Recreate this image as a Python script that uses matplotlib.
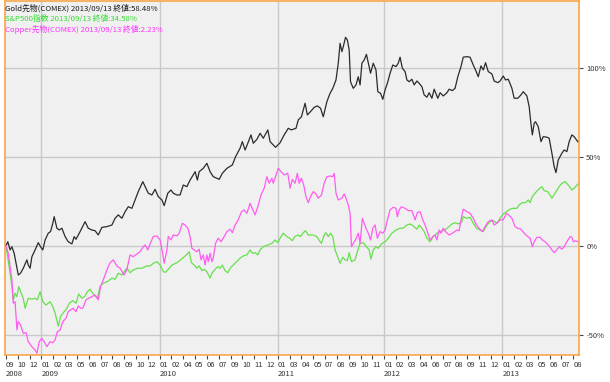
import matplotlib
matplotlib.use('Agg')
import matplotlib.pyplot as plt
from matplotlib.transforms import blended_transform_factory

plt.rcParams['font.family'] = ['Noto Sans CJK JP', 'DejaVu Sans']

# ---- data: x = trading-day index from 2008/09, y = % change ----
gold_days = [0, 4, 9, 13, 18, 27, 32, 38, 46, 49, 53, 57, 64, 71, 76, 81, 86, 93, 98, 103,
             106, 112, 117, 123, 130, 137, 145, 150, 154, 163, 174, 181, 189, 196, 203, 211,
             222, 233, 240, 247, 255, 262, 269, 277, 284, 291, 301, 313, 321, 328, 335, 343,
             348, 356, 363, 368, 376, 383, 390, 398, 405, 412, 416, 421, 425, 434, 442, 449,
             456, 464, 469, 476, 486, 498, 505, 515, 520, 526, 532, 539, 544, 552, 559, 566,
             576, 581, 588, 593, 603, 612, 621, 628, 632, 638, 643, 650, 658, 663, 670, 678,
             685, 692, 698, 706, 713, 719, 726, 731, 735, 739, 742, 747, 751, 755, 758, 764,
             770, 775, 779, 783, 788, 793, 799, 802, 808, 814, 818, 824, 829, 834, 839, 845,
             851, 858, 863, 867, 872, 878, 882, 887, 893, 898, 904, 909, 915, 920, 926, 931,
             937, 942, 950, 955, 962, 970, 975, 982, 988, 994, 1001, 1006, 1014, 1021, 1028,
             1033, 1039, 1045, 1050, 1055, 1061, 1069, 1074, 1082, 1087, 1094, 1099, 1105,
             1113, 1118, 1126, 1133, 1138, 1146, 1151, 1154, 1158, 1162, 1165, 1171, 1177,
             1182, 1190, 1195, 1201, 1206, 1210, 1215, 1223, 1228, 1234, 1239, 1245, 1250, 1258]
gold_pct = [0, 2.2, -2.4, -0.6, -4.3, -16.5, -15.5, -12.7, -8.0, -10.9, -12.7, -6.2, -2.4, 1.7,
            -0.6, -2.4, 3.2, 7.0, 7.9, 12.6, 16.3, 9.8, 8.8, 9.8, 5.1, 2.2, 1.0, 5.1, 3.6, 7.9,
            13.5, 9.8, 8.8, 8.4, 6.0, 10.3, 10.7, 11.6, 15.4, 17.3, 15.4, 19.1, 21.9, 21.0, 25.7,
            30.4, 36.0, 29.5, 28.5, 31.7, 27.6, 25.7, 22.5, 29.5, 31.3, 29.5, 28.5, 28.5, 34.1,
            33.2, 36.9, 39.8, 41.6, 36.9, 41.6, 43.5, 46.3, 41.6, 38.8, 37.9, 37.3, 40.7, 43.5,
            45.4, 50.0, 54.8, 58.5, 53.8, 57.6, 62.3, 57.6, 59.8, 63.2, 60.4, 65.1, 58.5, 56.6,
            55.3, 57.9, 62.3, 66.0, 65.1, 65.5, 66.0, 70.7, 72.5, 80.1, 73.5, 75.4, 77.8, 78.6,
            77.3, 72.5, 81.0, 85.7, 88.5, 93.2, 102.6, 113.8, 109.1, 111.9, 117.2, 115.7, 110.1,
            92.2, 88.5, 90.4, 95.0, 90.4, 102.6, 104.4, 107.6, 100.7, 97.0, 102.6, 98.8, 86.6,
            85.7, 82.3, 87.6, 91.3, 97.0, 101.6, 100.7, 102.6, 106.0, 99.8, 97.9, 93.2, 92.2,
            93.6, 90.4, 92.6, 91.3, 89.4, 84.8, 83.5, 86.0, 82.9, 88.0, 82.9, 86.0, 84.2, 86.0,
            88.0, 87.2, 88.5, 95.0, 100.7, 106.0, 106.3, 106.0, 101.6, 98.8, 95.0, 101.1, 98.8,
            102.9, 97.9, 96.6, 92.6, 91.7, 92.6, 95.4, 93.2, 93.6, 88.5, 82.9, 82.9, 84.8, 86.6,
            84.2, 78.2, 70.7, 62.3, 68.8, 69.7, 66.9, 58.5, 61.3, 61.0, 60.4, 52.0, 44.4, 41.1,
            48.2, 52.0, 53.8, 52.9, 58.5, 62.3, 61.3, 58.48]

sp500_days = [0, 9, 13, 16, 20, 24, 28, 32, 38, 42, 49, 57, 64, 69, 75, 81, 88, 97, 103, 108,
              115, 120, 128, 134, 139, 147, 154, 160, 167, 174, 179, 185, 192, 201, 207, 214,
              223, 233, 240, 247, 255, 260, 266, 273, 280, 289, 299, 310, 317, 324, 332, 339,
              346, 351, 357, 365, 376, 386, 397, 403, 408, 414, 420, 425, 431, 436, 442, 449,
              453, 460, 466, 471, 476, 482, 488, 495, 504, 515, 522, 530, 537, 542, 548, 554,
              559, 566, 576, 585, 592, 598, 605, 610, 618, 625, 630, 636, 643, 648, 654, 659,
              665, 675, 684, 691, 694, 700, 704, 709, 714, 719, 724, 729, 735, 741, 746, 751,
              755, 760, 768, 773, 779, 786, 793, 799, 803, 808, 814, 819, 826, 834, 841, 849,
              858, 867, 874, 882, 889, 896, 904, 909, 915, 920, 926, 933, 940, 948, 955, 966,
              973, 981, 988, 995, 1003, 1006, 1014, 1021, 1028, 1035, 1043, 1050, 1058, 1065,
              1072, 1080, 1087, 1094, 1101, 1109, 1116, 1124, 1129, 1136, 1143, 1149, 1153,
              1158, 1164, 1170, 1179, 1184, 1192, 1201, 1208, 1217, 1223, 1230, 1237, 1245,
              1250, 1258]
sp500_pct = [0, -15.5, -23.0, -30.5, -26.8, -28.7, -23.0, -25.9, -29.6, -35.2, -29.6, -30.1,
             -29.6, -30.5, -25.9, -31.5, -33.4, -31.5, -34.3, -38.0, -45.2, -39.9, -37.1, -35.2,
             -32.4, -30.9, -32.4, -27.2, -29.6, -28.3, -25.9, -24.5, -27.2, -29.6, -23.0, -21.1,
             -20.2, -18.3, -18.9, -15.5, -16.5, -14.6, -12.7, -15.2, -13.7, -12.7, -12.7, -11.4,
             -11.4, -9.9, -9.0, -10.9, -14.6, -15.0, -13.3, -10.9, -9.6, -7.6, -5.2, -3.4, -9.6,
             -10.9, -12.7, -11.4, -14.1, -13.3, -14.6, -18.3, -15.5, -13.3, -11.8, -12.7, -10.9,
             -14.1, -15.2, -12.1, -9.9, -7.1, -5.8, -5.2, -2.4, -4.3, -3.9, -5.2, -2.4, -0.6,
             0.4, 1.3, 3.2, 1.7, 5.1, 7.0, 5.1, 4.0, 2.8, 5.3, 6.0, 5.1, 7.3, 8.4, 6.0, 6.0, 5.1,
             2.2, 1.3, 6.0, 7.3, 5.1, 7.0, 5.1, -2.4, -5.8, -9.9, -6.5, -8.0, -8.4, -3.9, -9.0,
             -8.0, -3.4, 1.3, 1.7, -0.6, -2.4, -7.6, -2.4, -0.6, -1.5, 1.0, 2.2, 4.2, 7.0, 8.8,
             9.8, 9.8, 11.6, 12.2, 11.1, 9.2, 11.6, 9.8, 7.9, 4.2, 2.2, 5.1, 7.0, 7.9, 8.8, 10.3,
             12.2, 12.9, 12.2, 13.5, 16.3, 15.4, 15.9, 12.6, 9.8, 8.8, 7.9, 11.6, 13.5, 14.1,
             12.6, 15.4, 17.8, 19.1, 20.5, 21.0, 21.0, 22.9, 24.2, 24.2, 25.7, 24.2, 27.6, 29.5,
             31.3, 33.2, 30.9, 30.4, 26.7, 29.5, 33.2, 35.1, 36.0, 34.1, 31.3, 32.3, 34.58]

copper_days = [0, 5, 9, 13, 16, 20, 24, 27, 32, 38, 44, 49, 57, 64, 68, 73, 79, 84, 90, 97,
               103, 108, 113, 119, 125, 132, 137, 142, 148, 154, 159, 164, 169, 176, 181, 189,
               196, 203, 208, 214, 222, 229, 236, 244, 251, 260, 266, 273, 280, 288, 295, 301,
               306, 312, 317, 324, 332, 339, 344, 348, 354, 357, 363, 368, 376, 381, 388, 394,
               400, 405, 409, 414, 420, 425, 429, 434, 438, 442, 445, 449, 453, 456, 461, 467,
               473, 480, 486, 493, 498, 504, 511, 518, 524, 530, 537, 543, 548, 554, 561, 568,
               574, 579, 585, 588, 593, 599, 605, 612, 620, 625, 630, 636, 641, 645, 650, 655,
               660, 665, 670, 676, 682, 687, 694, 700, 706, 713, 719, 722, 726, 731, 739, 744,
               748, 753, 757, 760, 764, 769, 775, 779, 784, 788, 792, 797, 802, 807, 812, 817,
               823, 829, 834, 839, 845, 852, 858, 861, 865, 870, 878, 885, 893, 900, 905, 911,
               917, 922, 927, 933, 939, 944, 948, 953, 957, 962, 967, 975, 984, 992, 997, 1001,
               1006, 1014, 1021, 1028, 1035, 1043, 1048, 1054, 1061, 1069, 1074, 1080, 1087,
               1094, 1101, 1106, 1113, 1120, 1126, 1133, 1140, 1148, 1153, 1158, 1162, 1168,
               1175, 1180, 1186, 1193, 1201, 1206, 1212, 1217, 1223, 1228, 1234, 1241, 1245,
               1248, 1253, 1258]
copper_pct = [0, -4.3, -11.8, -19.3, -32.4, -31.5, -47.4, -42.7, -44.6, -49.3, -48.9, -54.0,
              -56.8, -58.7, -60.5, -54.0, -52.1, -54.0, -56.8, -54.0, -54.6, -53.0, -48.4, -47.4,
              -42.7, -40.8, -37.1, -36.2, -35.2, -37.1, -33.9, -35.2, -35.2, -30.5, -29.6, -28.7,
              -27.7, -30.5, -23.0, -19.3, -13.7, -9.6, -8.0, -11.4, -12.7, -16.5, -13.3, -5.2,
              -6.2, -4.7, -3.4, -0.9, 0.4, -2.4, 1.0, 5.1, 5.5, 3.2, -3.4, -9.9, -2.4, 5.1, 3.2,
              6.0, 5.5, 7.0, 12.6, 11.6, 9.8, 5.1, -1.5, -2.4, -3.4, -2.0, -8.0, -5.2, -10.9,
              -5.2, -9.0, -4.3, -9.0, -7.1, 1.3, 4.2, 2.2, 5.1, 7.9, 9.2, 7.3, 11.6, 14.5, 19.1,
              20.1, 18.2, 23.8, 20.1, 17.3, 21.9, 28.5, 32.3, 38.8, 35.1, 37.9, 35.1, 38.8, 43.5,
              41.6, 39.8, 40.7, 32.3, 37.3, 35.1, 40.7, 35.1, 37.9, 34.1, 27.6, 24.2, 27.6, 30.4,
              29.1, 26.7, 28.5, 35.1, 38.8, 39.2, 38.8, 40.7, 29.5, 25.7, 26.7, 29.1, 26.7, 22.9,
              18.2, -0.6, 1.3, 3.2, 7.0, 1.3, 15.4, 12.6, 9.8, 7.0, 3.2, 9.8, 11.6, 4.2, 7.9, 7.0,
              8.8, 14.5, 20.1, 21.6, 21.0, 16.3, 20.1, 21.9, 21.0, 19.7, 19.7, 14.5, 18.6, 19.1,
              14.5, 11.6, 7.9, 3.2, 5.1, 6.0, 3.2, 8.8, 7.0, 9.8, 7.9, 6.0, 7.3, 8.8, 8.4, 14.5,
              20.5, 19.1, 18.2, 15.4, 11.6, 9.2, 7.9, 10.7, 13.5, 14.5, 11.6, 12.6, 14.5, 14.5,
              18.2, 17.3, 15.4, 10.7, 9.8, 9.2, 7.0, 5.1, 4.2, -0.6, 2.2, 4.7, 4.7, 3.2, 2.2, 0.4,
              -2.4, -3.9, -2.4, -0.6, -2.0, -0.6, 2.2, 5.1, 4.7, 2.2, 2.8, 2.23]

# x tick labels (one every 26 trading days)
tick_months = ['09', '10', '12', '01', '02', '03', '05', '06', '07', '08', '09', '10', '12',
               '01', '02', '04', '05', '06', '07', '09', '10', '11', '12',
               '01', '03', '04', '05', '07', '08', '09', '10', '11',
               '01', '02', '03', '04', '06', '07', '08', '09', '11', '12',
               '01', '02', '03', '05', '06', '07', '08']
tick_years = {0: '2008', 3: '2009', 13: '2010', 23: '2011', 32: '2012', 42: '2013'}
y_ticks = [100, 50, 0, -50]

legend_texts = ['Gold先物(COMEX) 2013/09/13 終値:58.48%',
                'S&P500指数 2013/09/13 終値:34.58%',
                'Copper先物(COMEX) 2013/09/13 終値:2.23%']

# ---- styles ----
c_gold = '#2b2b2b'
c_sp = '#66e04c'
c_cu = '#ff5cf0'
c_text = ['#1a1a1a', '#33dd33', '#ff33ff']
orange = '#f7a64a'
grid_c = '#c9c9c9'

fig = plt.figure(figsize=(6.1, 3.82), dpi=100, facecolor='white')
ax = fig.add_axes([5 / 610, 1 - 355 / 382, 574.3 / 610, 354 / 382])
ax.set_facecolor('#f0f0f0')

tick_step = 26
tick_pos = [i * tick_step for i in range(len(tick_months))]
ax.set_xlim(-2.2, 1261.3)
ax.set_ylim(-61.5, 137.6)

# grid
for yv in y_ticks:
    ax.axhline(yv, color=grid_c, lw=1.0, zorder=1)
for idx in tick_years:
    if idx > 0:
        ax.axvline(tick_pos[idx], color=grid_c, lw=1.0, zorder=1)

ax.plot(gold_days, gold_pct, color=c_gold, lw=0.9, zorder=3)
ax.plot(sp500_days, sp500_pct, color=c_sp, lw=0.9, zorder=3)
ax.plot(copper_days, copper_pct, color=c_cu, lw=0.9, zorder=3)

# month labels on ticks, years as a second row
ax.set_xticks(tick_pos)
ax.set_xticklabels(tick_months, fontsize=5.5, color='#333333', va='top', ha='left')
ax.tick_params(axis='x', direction='out', length=3, width=0.8, color='#444444', pad=1.5)

trans = blended_transform_factory(ax.transData, ax.transAxes)
for idx, yr in tick_years.items():
    ax.text(tick_pos[idx], -19 / 354, yr, transform=trans, fontsize=5.5, color='#333333',
            ha='left', va='center', clip_on=False)

ax.yaxis.tick_right()
ax.set_yticks(y_ticks)
ax.set_yticklabels([f'{v}%' for v in y_ticks], fontsize=5.5, color='#333333')
ax.tick_params(axis='y', direction='out', length=3, width=0.8, color='#444444', pad=2)

for s in ax.spines.values():
    s.set_color(orange)
    s.set_linewidth(1.2)

for i, (txt, col) in enumerate(zip(legend_texts, c_text)):
    ax.text(0.0, 1 - (7 + 10.5 * i) / 354, txt, transform=ax.transAxes, fontsize=5.6,
            color=col, ha='left', va='center', zorder=5)

fig.savefig('out.png', dpi=100, facecolor='white')
